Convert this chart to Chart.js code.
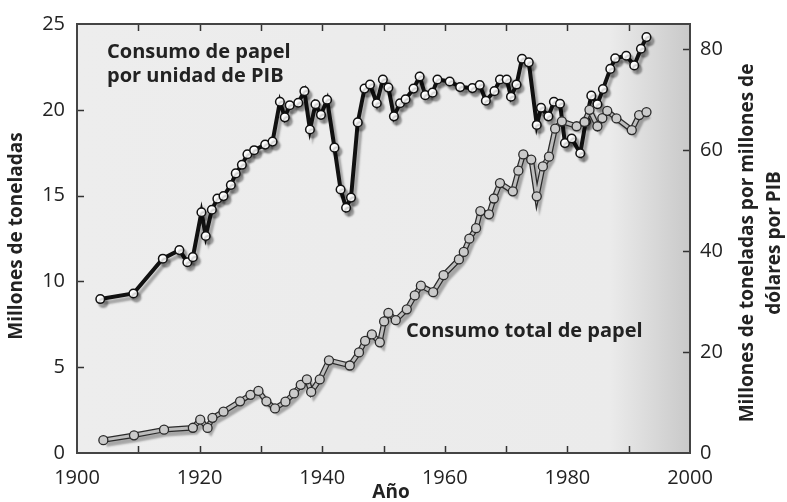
<!DOCTYPE html>
<html>
<head>
<meta charset="utf-8">
<script src="https://cdn.jsdelivr.net/npm/chart.js@4.4.1/dist/chart.umd.min.js"></script>
<style>
    html, body { margin: 0; padding: 0; background: #fff; }
    #wrap { width: 787px; height: 502px; }
</style>
</head>
<body>
<div id="wrap"><canvas id="paper-chart"></canvas></div>
<script>
// Consumo de papel por unidad de PIB (eje derecho)
var intensityYears = [
    1903.8, 1909.2, 1914.0, 1916.7, 1918.0, 1918.9, 1920.3, 1921.0, 1922.0, 1922.9,
    1923.9, 1925.1, 1925.9, 1926.9, 1927.8, 1928.9, 1930.7, 1931.9, 1933.1, 1933.9,
    1934.7, 1936.1, 1937.1, 1938.0, 1938.9, 1939.8, 1940.8, 1942.0, 1943.0, 1943.9,
    1944.7, 1945.8, 1946.9, 1947.8, 1948.9, 1949.9, 1950.8, 1951.7, 1952.7, 1953.6,
    1954.9, 1955.9, 1956.8, 1958.0, 1958.8, 1960.8, 1962.5, 1964.5, 1965.7, 1966.7,
    1968.1, 1969.0, 1970.1, 1970.8, 1971.7, 1972.6, 1973.7, 1975.0, 1975.7, 1976.9,
    1977.8, 1978.8, 1979.6, 1980.7, 1982.1, 1983.0, 1983.9, 1984.9, 1985.8, 1987.0,
    1987.8, 1989.6, 1990.9, 1992.0, 1992.9
];
var intensityValues = [
    30.5, 31.6, 38.5, 40.2, 37.8, 38.8, 47.7, 43.0, 48.2, 50.4,
    50.9, 53.1, 55.4, 57.1, 59.2, 60.0, 61.1, 61.7, 69.6, 66.5,
    68.9, 69.4, 71.7, 64.1, 69.1, 67.0, 70.0, 60.5, 52.2, 48.6,
    50.6, 65.5, 72.2, 73.0, 69.3, 74.0, 72.4, 66.7, 69.3, 70.1,
    72.2, 74.6, 70.9, 71.4, 74.0, 73.6, 72.5, 72.3, 72.9, 69.8,
    71.7, 74.0, 74.0, 70.6, 73.0, 78.1, 77.4, 65.0, 68.4, 66.7,
    69.6, 69.2, 61.4, 62.3, 59.4, 65.7, 70.8, 69.1, 72.1, 76.1,
    78.2, 78.7, 76.8, 80.1, 82.4
];

// Consumo total de papel, millones de toneladas (eje izquierdo)
var totalYears = [
    1904.3, 1909.3, 1914.2, 1918.9, 1920.1, 1921.3, 1922.1, 1923.9, 1926.6, 1928.3,
    1929.6, 1930.9, 1932.3, 1934.0, 1935.4, 1936.5, 1937.5, 1938.2, 1939.6, 1941.1,
    1944.5, 1946.0, 1947.0, 1948.1, 1949.4, 1950.1, 1950.8, 1952.0, 1953.8, 1955.1,
    1956.1, 1958.1, 1959.8, 1962.3, 1963.1, 1964.0, 1965.1, 1965.8, 1967.2, 1968.0,
    1969.0, 1971.1, 1972.0, 1972.8, 1974.1, 1975.0, 1976.0, 1977.0, 1978.0, 1979.1,
    1981.5, 1982.8, 1983.6, 1984.9, 1985.7, 1986.5, 1988.0, 1990.5, 1991.7, 1992.9
];
var totalValues = [
    0.75, 1.03, 1.36, 1.47, 1.94, 1.46, 2.05, 2.41, 3.01, 3.39,
    3.62, 3.01, 2.60, 2.99, 3.47, 3.97, 4.29, 3.56, 4.29, 5.40,
    5.10, 5.86, 6.53, 6.91, 6.45, 7.67, 8.16, 7.74, 8.37, 9.18,
    9.75, 9.37, 10.36, 11.28, 11.72, 12.49, 13.10, 14.10, 13.91, 14.83,
    15.73, 15.25, 16.45, 17.40, 17.10, 14.96, 16.70, 17.27, 18.90, 19.33,
    19.04, 19.29, 20.00, 19.04, 19.52, 19.94, 19.50, 18.82, 19.69, 19.87
];

// ejes
var xLabelYears = [1900, 1920, 1940, 1960, 1980, 2000];
var xTickMarks = [1910, 1920, 1930, 1940, 1950, 1960, 1970, 1980, 1990];
var leftTicks = [0, 5, 10, 15, 20, 25];
var rightTicks = [0, 20, 40, 60, 80];

var toPoints = function (xs, ys) {
    return xs.map(function (x, i) { return { x: x, y: ys[i] }; });
};

var tickFont = { family: 'Open Sans', size: 20 };
var ink = '#222';
var plainLabel = function (v) { return String(v); };

var paperPlugin = {
    id: 'paper',
    beforeDraw: function (chart) {
        var a = chart.chartArea, ctx = chart.ctx;
        var w = a.right - a.left;
        var g = ctx.createLinearGradient(a.left, 0, a.right, 0);
        var fadeStart = (chart.scales.x.getPixelForValue(1987) - a.left) / w;
        g.addColorStop(0, '#ededed');
        g.addColorStop(fadeStart, '#ebebeb');
        g.addColorStop(1, '#c9c9c9');
        ctx.save();
        ctx.fillStyle = g;
        ctx.fillRect(a.left, a.top, w, a.bottom - a.top);
        ctx.restore();
    },
    beforeDatasetsDraw: function (chart) {
        var a = chart.chartArea, ctx = chart.ctx;
        var sx = chart.scales.x, sy = chart.scales.y, sy1 = chart.scales.y1;
        ctx.save();
        ctx.strokeStyle = '#333';
        ctx.lineWidth = 1.5;
        ctx.beginPath();
        xTickMarks.forEach(function (v) {
            var px = Math.round(sx.getPixelForValue(v)) + 0.5;
            ctx.moveTo(px, a.bottom); ctx.lineTo(px, a.bottom - 7);
            ctx.moveTo(px, a.top); ctx.lineTo(px, a.top + 7);
        });
        leftTicks.slice(1, -1).forEach(function (v) {
            var py = Math.round(sy.getPixelForValue(v)) + 0.5;
            ctx.moveTo(a.left, py); ctx.lineTo(a.left + 7, py);
        });
        rightTicks.slice(1).forEach(function (v) {
            var py = Math.round(sy1.getPixelForValue(v)) + 0.5;
            ctx.moveTo(a.right, py); ctx.lineTo(a.right - 7, py);
        });
        ctx.stroke();
        ctx.strokeStyle = '#444';
        ctx.lineWidth = 2;
        ctx.strokeRect(a.left, a.top, a.right - a.left, a.bottom - a.top);
        ctx.restore();
    },
    beforeDatasetDraw: function (chart, args) {
        var ds = chart.data.datasets[args.index];
        if (ds.shadow) {
            var ctx = chart.ctx;
            ctx.save();
            ctx.shadowColor = 'rgba(0,0,0,0.3)';
            ctx.shadowOffsetX = 3;
            ctx.shadowOffsetY = 4;
            ctx.shadowBlur = 2;
        }
    },
    afterDatasetDraw: function (chart, args) {
        var ds = chart.data.datasets[args.index];
        if (ds.shadow) chart.ctx.restore();
    },
    afterDraw: function (chart) {
        var ctx = chart.ctx;
        ctx.save();
        ctx.fillStyle = ink;
        ctx.font = 'bold 20px "Open Sans"';
        ctx.textAlign = 'left';
        ctx.textBaseline = 'alphabetic';
        ctx.fillText('Consumo de papel', 107, 58);
        ctx.fillText('por unidad de PIB', 107, 82);
        ctx.fillText('Consumo total de papel', 406, 337);

        ctx.font = 'bold 19px "Open Sans"';
        ctx.textAlign = 'center';
        ctx.textBaseline = 'middle';
        ctx.fillText('Año', 391, 493);

        ctx.save();
        ctx.translate(17, 236);
        ctx.rotate(-Math.PI / 2);
        ctx.fillText('Millones de toneladas', 0, 0);
        ctx.restore();

        ctx.save();
        ctx.translate(748, 243);
        ctx.rotate(-Math.PI / 2);
        ctx.fillText('Millones de toneladas por millones de', 0, 0);
        ctx.fillText('dólares por PIB', 0, 27);
        ctx.restore();
        ctx.restore();
    }
};

var ctx = document.getElementById('paper-chart');

var config = {
    type: 'line',
    data: {
        datasets: [
            {
                label: 'Consumo total de papel',
                data: toPoints(totalYears, totalValues),
                yAxisID: 'y',
                borderColor: '#bdbdbd',
                borderWidth: 3,
                pointRadius: 4.5,
                pointBackgroundColor: '#cbcbcb',
                pointBorderColor: '#2a2a2a',
                pointBorderWidth: 1.3,
                order: 0
            },
            {
                label: 'contorno',
                data: toPoints(totalYears, totalValues),
                yAxisID: 'y',
                borderColor: '#2a2a2a',
                borderWidth: 5.5,
                pointRadius: 0,
                shadow: true,
                order: 1
            },
            {
                label: 'Consumo de papel por unidad de PIB',
                data: toPoints(intensityYears, intensityValues),
                yAxisID: 'y1',
                borderColor: '#111',
                borderWidth: 4,
                pointRadius: 4.3,
                pointBackgroundColor: '#fff',
                pointBorderColor: '#111',
                pointBorderWidth: 1.5,
                shadow: true,
                order: 2
            }
        ]
    },
    options: {
        responsive: true,
        maintainAspectRatio: false,
        animation: false,
        layout: { padding: { top: 18, left: 0, right: 0, bottom: 0 } },
        elements: { line: { tension: 0 } },
        plugins: {
            legend: { display: false },
            tooltip: { enabled: false }
        },
        scales: {
            x: {
                type: 'linear',
                position: 'bottom',
                min: 1900,
                max: 2000,
                grid: { display: false, drawTicks: false },
                border: { display: false },
                afterBuildTicks: function (scale) {
                    scale.ticks = xLabelYears.map(function (v) { return { value: v }; });
                },
                afterFit: function (scale) { scale.height = 49; },
                ticks: { autoSkip: false, maxRotation: 0, padding: 13, color: ink, font: tickFont, callback: plainLabel }
            },
            y: {
                type: 'linear',
                position: 'left',
                min: 0,
                max: 25,
                grid: { display: false, drawTicks: false },
                border: { display: false },
                afterBuildTicks: function (scale) {
                    scale.ticks = leftTicks.map(function (v) { return { value: v }; });
                },
                afterFit: function (scale) { scale.width = 77; },
                ticks: { padding: 12, color: ink, font: tickFont, callback: plainLabel }
            },
            y1: {
                type: 'linear',
                position: 'right',
                min: 0,
                max: 85,
                grid: { display: false, drawTicks: false },
                border: { display: false },
                afterBuildTicks: function (scale) {
                    scale.ticks = rightTicks.map(function (v) { return { value: v }; });
                },
                afterFit: function (scale) { scale.width = 97; },
                ticks: { padding: 10, color: ink, font: tickFont, callback: plainLabel }
            }
        }
    },
    plugins: [paperPlugin]
};

var chart = new Chart(ctx, config);
</script>
</body>
</html>
